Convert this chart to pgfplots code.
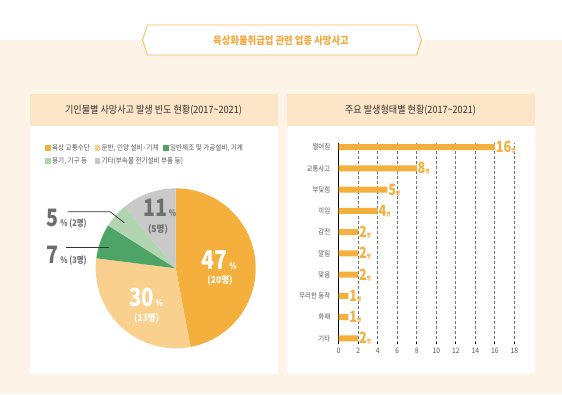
\documentclass[border=0pt]{standalone}
\usepackage{fontspec}
\usepackage{pgfplots}
\pgfplotsset{compat=1.18}
\usepackage{pgfplotstable}
\setmainfont{Noto Sans CJK KR}[FakeStretch=0.9]
\newfontfamily\numfont{Noto Sans CJK KR}[FakeStretch=0.82]
\definecolor{cOrange}{HTML}{F5AF3C}
\definecolor{cLight}{HTML}{FAD08E}
\definecolor{cGreen}{HTML}{4DA466}
\definecolor{cLGreen}{HTML}{B2D5B1}
\definecolor{cGray}{HTML}{C9C9C9}
\definecolor{cCream}{HTML}{FDF3E6}
\definecolor{cPeach}{HTML}{FDE5C7}
\definecolor{cBanner}{HTML}{F4A73A}
\definecolor{cText}{HTML}{333333}
\definecolor{cLabel}{HTML}{555555}
\definecolor{cNum}{HTML}{6E6E6E}

\pgfplotstableread{
idx value
9 16
8 8
7 5
6 4
5 2
4 2
3 2
2 1
1 1
0 2
}\bartable

\begin{document}
\begin{tikzpicture}[x=1pt,y=1pt]
\useasboundingbox (0,0) rectangle (562,394);
\fill[white] (0,0) rectangle (562,394);
\fill[cCream] (0,0) rectangle (562,354);
% banner
\filldraw[fill=white, draw=cBanner!80, line width=0.8pt]
 (142.5,354) -- (147.5,369) -- (416.5,369) -- (421.5,354) -- (416.5,339) -- (147.5,339) -- cycle;
\node[text=cBanner, font=\fontsize{10.4}{11}\selectfont\bfseries] at (281,353.5) {육상화물취급업 관련 업종 사망사고};
% panels
\fill[white] (30,20) rectangle (278,300);
\fill[cPeach] (30,268) rectangle (278,300);
\fill[white] (287,20) rectangle (535,300);
\fill[cPeach] (287,268) rectangle (535,300);
\node[text=cText, font=\fontsize{10.1}{11}\selectfont] at (153.5,284) {기인물별 사망사고 발생 빈도 현황(2017\textasciitilde2021)};
\node[text=cText, font=\fontsize{10.1}{11}\selectfont] at (410.5,284) {주요 발생형태별 현황(2017\textasciitilde2021)};

% pie angles from the percentages
\pgfmathsetmacro\aA{90}
\pgfmathsetmacro\aB{\aA-3.6*47}
\pgfmathsetmacro\aC{\aB-3.6*30}
\pgfmathsetmacro\aD{\aC-3.6*7}
\pgfmathsetmacro\aE{\aD-3.6*5}
\pgfmathsetmacro\aF{\aE-3.6*11}

\begin{axis}[
  at={(175.7pt,125.7pt)}, anchor=center,
  scale only axis, width=160pt, height=160pt,
  xmin=-1, xmax=1, ymin=-1, ymax=1,
  hide axis, clip=false,
  legend image code/.code={\fill[#1, draw=none] (0pt,-2.9pt) rectangle (5.8pt,2.9pt);},
  legend style={at={(-0.317,1.285)}, anchor=north west, draw=none, fill=none,
    font=\fontsize{7.3}{8}\selectfont, text=cLabel, inner sep=0pt, row sep=3pt,
    nodes={inner sep=1.2pt}},
  legend columns=3, legend cell align=left,
  /tikz/every even column/.append style={column sep=3.5pt},
]
\addlegendimage{fill=cOrange}\addlegendentry{육상 교통수단}
\addlegendimage{fill=cLight}\addlegendentry{운반, 인양 설비·기계}
\addlegendimage{fill=cGreen}\addlegendentry{일반제조 및 가공설비, 기계}
\addlegendimage{fill=cLGreen}\addlegendentry{용기, 기구 등}
\addlegendimage{fill=cGray}\addlegendentry{\makebox[0pt][l]{기타(부속물 전기설비 부품 등)}}
\fill[cOrange] (axis cs:0,0) -- (axis cs:{cos(\aA)},{sin(\aA)}) arc[start angle=\aA, end angle=\aB, radius=80pt] -- cycle;
\fill[cLight] (axis cs:0,0) -- (axis cs:{cos(\aB)},{sin(\aB)}) arc[start angle=\aB, end angle=\aC, radius=80pt] -- cycle;
\fill[cGreen] (axis cs:0,0) -- (axis cs:{cos(\aC)},{sin(\aC)}) arc[start angle=\aC, end angle=\aD, radius=80pt] -- cycle;
\fill[cLGreen] (axis cs:0,0) -- (axis cs:{cos(\aD)},{sin(\aD)}) arc[start angle=\aD, end angle=\aE, radius=80pt] -- cycle;
\fill[cGray] (axis cs:0,0) -- (axis cs:{cos(\aE)},{sin(\aE)}) arc[start angle=\aE, end angle=\aF, radius=80pt] -- cycle;
% labels
\node[anchor=base west, inner sep=0pt, text=white] at (axis cs:0.325,-0.0125)
  {\numfont\bfseries\fontsize{26}{26}\selectfont 47\fontsize{9}{9}\selectfont\,\%};
\node[text=white, inner sep=0pt] at (axis cs:0.554,-0.146) {\bfseries\fontsize{9.5}{9.5}\selectfont (20명)};
\node[anchor=base west, inner sep=0pt, text=white] at (axis cs:-0.584,-0.48)
  {\numfont\bfseries\fontsize{25}{25}\selectfont 30\fontsize{9}{9}\selectfont\,\%};
\node[text=white, inner sep=0pt] at (axis cs:-0.3625,-0.63) {\bfseries\fontsize{9.5}{9.5}\selectfont (13명)};
\node[anchor=base west, inner sep=0pt, text=cNum] at (axis cs:-0.405,0.645)
  {\numfont\bfseries\fontsize{24}{24}\selectfont 11\fontsize{9}{9}\selectfont\,\%};
\node[text=cNum, inner sep=0pt] at (axis cs:-0.221,0.491) {\bfseries\fontsize{9.5}{9.5}\selectfont (5명)};
\node[anchor=base west, inner sep=0pt, text=cNum] at (axis cs:-1.6125,0.52)
  {\numfont\bfseries\fontsize{24}{24}\selectfont 5\fontsize{9}{9}\selectfont\,\% (2명)};
\node[anchor=base west, inner sep=0pt, text=cNum] at (axis cs:-1.6125,0.054)
  {\numfont\bfseries\fontsize{24}{24}\selectfont 7\fontsize{9}{9}\selectfont\,\% (3명)};
\draw[black!80, line width=0.7pt] (axis cs:-1.35,0.7075) -- (axis cs:-0.821,0.7075) -- (axis cs:-0.6425,0.57);
\draw[black!80, line width=0.7pt] (axis cs:-1.371,0.2575) -- (axis cs:-0.834,0.2575);
\end{axis}

\begin{axis}[
  at={(338.7pt,49.7pt)}, anchor=south west,
  scale only axis, width=175.6pt, height=201.3pt,
  xmin=0, xmax=18, ymin=-0.28, ymax=9.2,
  xbar, bar width=6pt,
  axis lines*=left,
  x axis line style={draw=none},
  y axis line style={black, line width=0.8pt},
  xtick={0,2,...,18}, ytick={0,...,9},
  yticklabels={기타,화재,무리한 동작,맞음,깔림,감전,끼임,부딪힘,교통사고,떨어짐},
  xmajorgrids, grid style={densely dashed, black!55, line width=0.6pt},
  x tick style={black, line width=0.6pt}, major tick length=2pt,
  y tick style={draw=none},
  xtick pos=bottom,
  /pgf/number format/assume math mode=true,
  xticklabel style={font=\fontsize{7.5}{7.5}\selectfont, text=cLabel},
  yticklabel style={font=\fontsize{7.1}{7.5}\selectfont, text=cLabel, xshift=-3pt},
  point meta=x,
  nodes near coords={\numfont\bfseries\fontsize{15.5}{15.5}\selectfont\pgfmathprintnumber{\pgfplotspointmeta}\fontsize{5.5}{6}\selectfont 명},
  every node near coord/.append style={anchor=west, inner sep=0.8pt, text=cOrange},
]
\addplot[fill=cOrange, draw=none] table[x=value, y=idx] {\bartable};
\end{axis}
\end{tikzpicture}
\end{document}
